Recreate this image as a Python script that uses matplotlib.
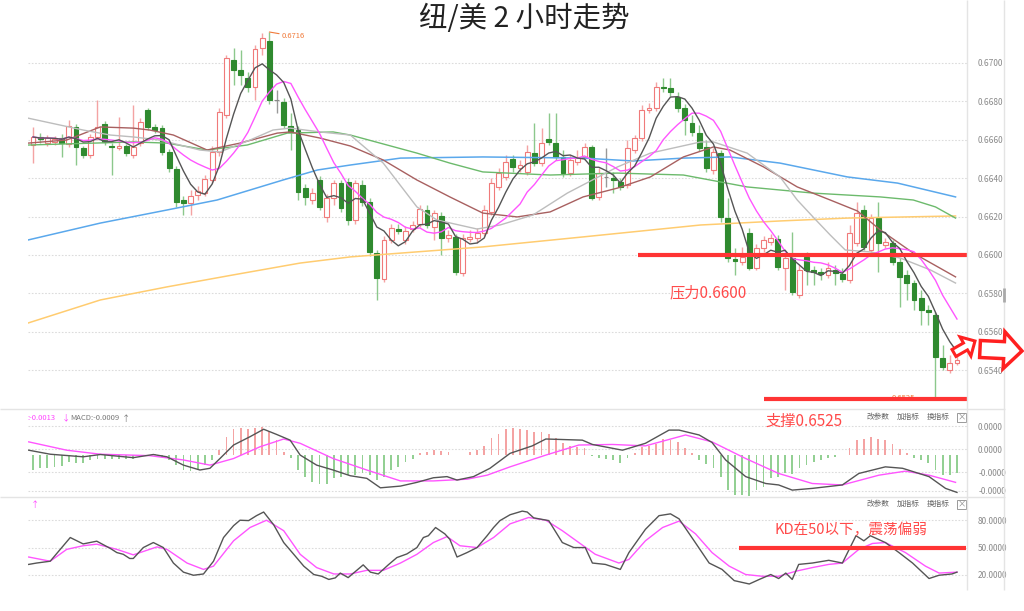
import matplotlib
matplotlib.use('Agg')
import matplotlib.pyplot as plt
import numpy as np
import pandas as pd
from matplotlib.patches import Rectangle, FancyArrow

plt.rcParams['font.family'] = ['Noto Sans CJK SC', 'DejaVu Sans']
plt.rcParams['axes.unicode_minus'] = False

# ---------------- data ----------------
opens = [0.66572, 0.66614, 0.66582, 0.66588, 0.66608, 0.66577, 0.66666, 0.66556, 0.66520, 0.66614,
         0.66681, 0.66567, 0.66556, 0.66567, 0.66520, 0.66582, 0.66754, 0.66666, 0.66660, 0.66536,
         0.66447, 0.66286, 0.66270, 0.66312, 0.66322, 0.66390, 0.66536, 0.66728, 0.67014, 0.66962,
         0.66920, 0.66874, 0.67076, 0.67113, 0.66806, 0.66796, 0.66671, 0.66650, 0.66348, 0.66286,
         0.66390, 0.66198, 0.66296, 0.66374, 0.66380, 0.66182, 0.66364, 0.66276, 0.66010, 0.65875,
         0.66078, 0.66135, 0.66078, 0.66135, 0.66161, 0.66234, 0.66146, 0.66203, 0.66088, 0.66094,
         0.65906, 0.66083, 0.66088, 0.66114, 0.66224, 0.66354, 0.66406, 0.66499, 0.66452, 0.66432,
         0.66530, 0.66478, 0.66603, 0.66582, 0.66510, 0.66426, 0.66484, 0.66510, 0.66562, 0.66302,
         0.66406, 0.66400, 0.66380, 0.66364, 0.66546, 0.66608, 0.66754, 0.66764, 0.66874, 0.66868,
         0.66822, 0.66764, 0.66686, 0.66634, 0.66562, 0.66442, 0.66530, 0.66192, 0.65979, 0.65964,
         0.66114, 0.65932, 0.66036, 0.66068, 0.66083, 0.65932, 0.65984, 0.65792, 0.65990, 0.65922,
         0.65912, 0.65896, 0.65922, 0.65901, 0.65870, 0.66062, 0.66234, 0.66026, 0.66192, 0.66052,
         0.66062, 0.65964, 0.65896, 0.65854, 0.65776, 0.65714, 0.65688, 0.65464, 0.65402, 0.65438]
highs = [0.66666, 0.66634, 0.66624, 0.66619, 0.66629, 0.66702, 0.66681, 0.66567, 0.66629, 0.66806,
         0.66697, 0.66582, 0.66718, 0.66577, 0.66780, 0.66712, 0.66764, 0.66681, 0.66676, 0.66551,
         0.66463, 0.66307, 0.66338, 0.66359, 0.66416, 0.66567, 0.66764, 0.67040, 0.67076, 0.67066,
         0.66952, 0.67092, 0.67154, 0.67160, 0.66858, 0.66816, 0.66738, 0.66671, 0.66369, 0.66348,
         0.66411, 0.66317, 0.66390, 0.66390, 0.66400, 0.66390, 0.66390, 0.66296, 0.66026, 0.66099,
         0.66161, 0.66161, 0.66151, 0.66177, 0.66260, 0.66260, 0.66234, 0.66224, 0.66130, 0.66109,
         0.66109, 0.66130, 0.66140, 0.66260, 0.66400, 0.66452, 0.66520, 0.66520, 0.66494, 0.66572,
         0.66686, 0.66660, 0.66738, 0.66738, 0.66546, 0.66520, 0.66546, 0.66582, 0.66572, 0.66452,
         0.66556, 0.66432, 0.66400, 0.66598, 0.66624, 0.66780, 0.66790, 0.66900, 0.66920, 0.66920,
         0.66848, 0.66785, 0.66728, 0.66676, 0.66598, 0.66556, 0.66546, 0.66296, 0.66036, 0.66042,
         0.66140, 0.66057, 0.66099, 0.66109, 0.66104, 0.66000, 0.66119, 0.65948, 0.66016, 0.65943,
         0.65932, 0.65964, 0.65948, 0.65932, 0.66156, 0.66276, 0.66260, 0.66213, 0.66276, 0.66088,
         0.66078, 0.65984, 0.65922, 0.65870, 0.65818, 0.65740, 0.65704, 0.65532, 0.65480, 0.65532]
lows = [0.66478, 0.66582, 0.66567, 0.66572, 0.66510, 0.66562, 0.66468, 0.66504, 0.66504, 0.66598,
        0.66572, 0.66416, 0.66546, 0.66515, 0.66504, 0.66567, 0.66650, 0.66634, 0.66520, 0.66432,
        0.66250, 0.66208, 0.66208, 0.66286, 0.66307, 0.66374, 0.66515, 0.66712, 0.66884, 0.66884,
        0.66848, 0.66806, 0.67040, 0.66785, 0.66738, 0.66660, 0.66546, 0.66286, 0.66260, 0.66265,
        0.66234, 0.66172, 0.66260, 0.66224, 0.66156, 0.66161, 0.66255, 0.65995, 0.65766, 0.65860,
        0.66062, 0.66109, 0.66057, 0.66120, 0.66146, 0.66140, 0.66078, 0.66000, 0.66068, 0.65896,
        0.65891, 0.66068, 0.66062, 0.66099, 0.66208, 0.66338, 0.66390, 0.66432, 0.66432, 0.66416,
        0.66463, 0.66463, 0.66572, 0.66494, 0.66406, 0.66411, 0.66468, 0.66494, 0.66286, 0.66286,
        0.66354, 0.66322, 0.66338, 0.66348, 0.66530, 0.66593, 0.66738, 0.66749, 0.66848, 0.66827,
        0.66744, 0.66624, 0.66619, 0.66541, 0.66432, 0.66421, 0.66172, 0.65964, 0.65896, 0.65948,
        0.65922, 0.65922, 0.66016, 0.66052, 0.65922, 0.65818, 0.65792, 0.65776, 0.65844, 0.65844,
        0.65870, 0.65880, 0.65844, 0.65860, 0.65854, 0.66047, 0.66026, 0.66016, 0.65912, 0.66036,
        0.65948, 0.65730, 0.65766, 0.65714, 0.65636, 0.65636, 0.65250, 0.65402, 0.65386, 0.65428]
closes = [0.66614, 0.66603, 0.66608, 0.66603, 0.66582, 0.66671, 0.66562, 0.66520, 0.66614, 0.66666,
          0.66588, 0.66562, 0.66567, 0.66530, 0.66562, 0.66692, 0.66666, 0.66650, 0.66536, 0.66452,
          0.66276, 0.66270, 0.66307, 0.66333, 0.66395, 0.66536, 0.66744, 0.67024, 0.66962, 0.66936,
          0.66874, 0.67071, 0.67128, 0.66806, 0.66806, 0.66676, 0.66640, 0.66328, 0.66302, 0.66322,
          0.66250, 0.66296, 0.66374, 0.66244, 0.66182, 0.66374, 0.66276, 0.66016, 0.65880, 0.66078,
          0.66140, 0.66125, 0.66125, 0.66156, 0.66239, 0.66156, 0.66218, 0.66088, 0.66104, 0.65912,
          0.66088, 0.66094, 0.66114, 0.66234, 0.66374, 0.66426, 0.66484, 0.66458, 0.66468, 0.66536,
          0.66478, 0.66582, 0.66588, 0.66510, 0.66426, 0.66494, 0.66504, 0.66562, 0.66296, 0.66426,
          0.66406, 0.66390, 0.66354, 0.66556, 0.66608, 0.66754, 0.66764, 0.66874, 0.66868, 0.66848,
          0.66764, 0.66702, 0.66640, 0.66556, 0.66452, 0.66536, 0.66198, 0.65984, 0.65969, 0.65990,
          0.65932, 0.66036, 0.66078, 0.66088, 0.65938, 0.65984, 0.65808, 0.65922, 0.65922, 0.65912,
          0.65901, 0.65932, 0.65906, 0.65875, 0.66114, 0.66218, 0.66042, 0.66192, 0.66062, 0.66068,
          0.65964, 0.65886, 0.65854, 0.65766, 0.65714, 0.65704, 0.65470, 0.65418, 0.65438, 0.65454]

# longer moving averages (candle index, price)
ma20_x = [-0.7, 7.0, 10.8, 14.0, 17.7, 23.3, 26.1, 30.3, 33.5, 35.9, 40.1, 44.3, 48.9, 53.6, 56.4, 62.0, 65.2,
          69.8, 74.6, 81.6, 86.2, 93.2, 95.0, 99.7, 104.3, 106.7, 108.9, 111.3, 113.4, 116.9, 121.1, 125.3, 128.8]
ma20_v = [0.66712, 0.66650, 0.66624, 0.66614, 0.66598, 0.66546, 0.66536, 0.66598, 0.66650, 0.66660, 0.66640,
          0.66624, 0.66478, 0.66250, 0.66182, 0.66135, 0.66156, 0.66208, 0.66322, 0.66458, 0.66530, 0.66588,
          0.66588, 0.66530, 0.66406, 0.66286, 0.66198, 0.66104, 0.66026, 0.66016, 0.65984, 0.65922, 0.65854]
ma30_x = [-0.7, 4.7, 9.4, 14.0, 16.3, 19.6, 24.3, 28.9, 34.1, 35.9, 40.1, 44.3, 48.9, 53.6, 58.2, 62.8, 67.6,
          72.2, 76.8, 81.6, 86.2, 90.8, 95.0, 97.3, 102.0, 106.7, 111.3, 115.1, 118.3, 122.9, 128.8]
ma30_v = [0.66582, 0.66598, 0.66666, 0.66660, 0.66650, 0.66624, 0.66546, 0.66582, 0.66634, 0.66640, 0.66608,
          0.66567, 0.66494, 0.66390, 0.66302, 0.66218, 0.66198, 0.66224, 0.66302, 0.66348, 0.66406, 0.66510,
          0.66562, 0.66546, 0.66458, 0.66354, 0.66286, 0.66229, 0.66130, 0.66010, 0.65886]
ma60_x = [-0.7, 14.0, 18.7, 24.3, 29.9, 35.5, 41.9, 44.3, 53.6, 58.2, 62.8, 72.2, 81.6, 90.8, 99.7, 108.9,
          118.3, 122.9, 126.0, 128.8]
ma60_v = [0.66572, 0.66588, 0.66582, 0.66546, 0.66572, 0.66634, 0.66640, 0.66624, 0.66530, 0.66478, 0.66432,
          0.66416, 0.66426, 0.66416, 0.66354, 0.66322, 0.66302, 0.66286, 0.66250, 0.66192]
ma120_x = [-0.7, 9.4, 18.7, 25.7, 30.3, 34.9, 39.7, 44.3, 51.3, 62.8, 76.8, 83.8, 90.8, 97.3, 104.3, 113.7,
           120.7, 128.8]
ma120_v = [0.66078, 0.66166, 0.66234, 0.66286, 0.66338, 0.66390, 0.66442, 0.66468, 0.66504, 0.66510, 0.66504,
           0.66489, 0.66504, 0.66510, 0.66478, 0.66406, 0.66374, 0.66302]
ma250_x = [-0.7, 9.4, 18.7, 27.9, 37.3, 44.3, 62.8, 76.8, 93.2, 104.3, 113.7, 128.8]
ma250_v = [0.65646, 0.65766, 0.65834, 0.65896, 0.65958, 0.65990, 0.66042, 0.66094, 0.66156, 0.66177, 0.66192,
           0.66203]

# MACD
macd_hist = [-0.00052, -0.00046, -0.00044, -0.00041, -0.00037, -0.00023, -0.00026, -0.00029, -0.00017, -0.00012,
             -0.00012, -0.00012, -0.00014, -0.00014, -0.00012, -0.00006, 0.00002, 0.00005, -0.00006, -0.00017,
             -0.00035, -0.00052, -0.00056, -0.00052, -0.00035, -0.00017, 0.00017, 0.00064, 0.00090, 0.00093,
             0.00090, 0.00095, 0.00099, 0.00084, 0.00052, 0.00012, -0.00009, -0.00052, -0.00075, -0.00095,
             -0.00099, -0.00099, -0.00081, -0.00075, -0.00070, -0.00070, -0.00064, -0.00070, -0.00087, -0.00075,
             -0.00052, -0.00041, -0.00023, -0.00012, 0.00006, 0.00009, 0.00017, 0.00014, 0.00012, 0.00001,
             0.00002, 0.00009, 0.00017, 0.00032, 0.00058, 0.00072, 0.00090, 0.00093, 0.00090, 0.00087,
             0.00081, 0.00079, 0.00075, 0.00058, 0.00041, 0.00032, 0.00029, 0.00026, -0.00002, -0.00009,
             -0.00014, -0.00017, -0.00026, -0.00009, 0.00006, 0.00029, 0.00032, 0.00037, 0.00056, 0.00052,
             0.00044, 0.00023, 0.00006, -0.00017, -0.00032, -0.00046, -0.00075, -0.00122, -0.00139, -0.00139,
             -0.00142, -0.00122, -0.00110, -0.00079, -0.00075, -0.00064, -0.00067, -0.00046, -0.00035, -0.00023,
             -0.00017, -0.00009, -0.00006, 0.00002, 0.00026, 0.00052, 0.00056, 0.00064, 0.00056, 0.00052,
             0.00037, 0.00021, 0.00006, -0.00009, -0.00017, -0.00026, -0.00052, -0.00070, -0.00070, -0.00064]
dif_x = [-0.6, 2.4, 7.0, 9.4, 14.0, 16.8, 18.7, 21.0, 23.3, 24.7, 26.1, 28.0, 30.3, 32.2, 34.0, 35.9, 37.3, 39.6,
         41.9, 44.3, 46.6, 48.5, 51.3, 53.6, 55.9, 57.8, 59.2, 61.5, 63.8, 66.6, 69.7, 71.6, 76.7, 78.1, 82.3,
         85.5, 88.8, 90.2, 93.0, 94.8, 96.7, 99.5, 102.3, 104.1, 106.0, 108.8, 113.0, 115.3, 119.0, 121.4, 125.1,
         127.4, 129.0]
dif_v = [0.00017, 0.00003, -0.00006, 0.00002, -0.00009, 0.00002, -0.00006, -0.00035, -0.00052, -0.00046,
         -0.00012, 0.00035, 0.00064, 0.00090, 0.00072, 0.00052, 0.0, -0.00035, -0.00052, -0.00072,
         -0.00081, -0.00114, -0.00108, -0.00095, -0.00079, -0.00075, -0.00087, -0.00075, -0.00046, 0.00006,
         0.00032, 0.00056, 0.00052, 0.00037, 0.00017, 0.00041, 0.00087, 0.00087, 0.00070, 0.00044,
         -0.00017, -0.00075, -0.00099, -0.00104, -0.00122, -0.00116, -0.00104, -0.00064, -0.00041, -0.00046,
         -0.00075, -0.00116, -0.00130]
dea_x = [-0.6, 4.7, 9.4, 16.3, 21.0, 24.7, 28.0, 31.7, 35.0, 37.3, 41.9, 46.6, 51.3, 55.9, 60.6, 63.4, 66.6,
         71.6, 76.2, 80.9, 85.5, 91.1, 94.8, 99.5, 104.1, 108.8, 113.0, 118.1, 121.8, 125.1, 128.8]
dea_v = [0.00046, 0.00017, 0.00003, -0.00002, -0.00017, -0.00035, -0.00012, 0.00029, 0.00056, 0.00041,
         -0.00012, -0.00052, -0.00090, -0.00090, -0.00084, -0.00070, -0.00041, 0.0, 0.00035, 0.00037,
         0.00032, 0.00070, 0.00046, -0.00012, -0.00064, -0.00099, -0.00104, -0.00070, -0.00056, -0.00070,
         -0.00095]
macd_ticks = [0.00101, 0.00021, -0.00059, -0.00125]
macd_tick_labels = ['0.0000', '0.0000', '-0.0000', '-0.0000']

# KD
k_x = [-0.6, 0.5, 2.4, 5.2, 7.0, 8.9, 10.8, 11.7, 12.6, 13.5, 14.0, 15.4, 16.8, 18.2, 19.6, 21.0, 22.4, 23.8,
       25.2, 26.6, 28.0, 28.9, 30.1, 31.2, 32.2, 33.6, 35.0, 36.4, 37.8, 39.2, 40.3, 41.3, 42.2, 42.9, 44.0,
       45.2, 46.1, 47.1, 48.2, 49.6, 50.8, 52.2, 53.6, 54.5, 55.2, 56.2, 57.5, 58.2, 59.2, 60.6, 62.0, 63.4,
       64.3, 65.2, 66.6, 68.3, 69.0, 69.9, 72.0, 73.9, 75.5, 77.1, 78.1, 79.9, 82.0, 83.2, 85.5, 87.4, 89.0,
       90.2, 92.3, 94.4, 96.2, 97.9, 100.0, 101.4, 103.0, 104.1, 105.1, 106.0, 106.9, 108.8, 111.1, 113.0,
       114.9, 116.0, 116.9, 119.0, 120.9, 122.8, 125.1, 126.5, 128.3, 129.0]
k_v = [31.5, 33, 35, 61, 54, 57, 49, 44.5, 42.6, 38, 38, 50, 55.5, 50, 33, 23, 19.6, 21, 35, 61, 74, 80, 79.6,
       85, 89, 75, 55.5, 42.6, 29.6, 20.4, 18.5, 15, 16.7, 22, 17, 25, 31, 23, 21, 31, 39, 43, 50, 61, 63, 72,
       65, 59, 39.6, 44.5, 50, 63, 72, 79.6, 86, 90, 89, 82.6, 79.6, 55.5, 50, 50, 33, 31.5, 26, 44.5, 70, 85,
       87, 81.5, 57.4, 33, 26, 13.7, 10, 15, 20.4, 16, 22, 15, 31.5, 33, 36, 33, 63, 57.4, 63, 55.5, 44.5, 33,
       16, 19.6, 21, 23]
d_x = [-0.6, 2.4, 4.7, 7.0, 8.9, 11.7, 14.0, 17.3, 18.7, 21.5, 23.8, 25.2, 28.0, 30.3, 32.6, 35.0, 37.3, 39.6,
       42.0, 44.3, 46.6, 48.9, 51.3, 53.6, 55.9, 57.8, 59.6, 62.0, 64.3, 66.6, 69.2, 71.6, 73.9, 76.2, 78.5,
       81.8, 83.2, 85.5, 87.9, 90.2, 92.5, 94.8, 97.2, 99.5, 101.8, 104.1, 106.5, 108.8, 111.1, 113.0, 115.3,
       117.2, 119.0, 121.8, 124.6, 126.5, 129.0]
d_v = [39.6, 35, 48, 52, 53.7, 48, 42, 50.7, 48, 33, 26, 29.6, 57.4, 72, 80, 68.5, 42.6, 28, 21, 21, 25, 25,
       33, 42.6, 55.5, 62, 52, 50, 61, 76, 83, 80, 68.5, 55.5, 42.6, 33, 37, 57.4, 72, 79, 65, 44.5, 29.6,
       20.4, 18.5, 18.5, 24, 28, 31.5, 33, 48, 54.5, 55.5, 44.5, 29.6, 22, 23]

price_ticks = [0.6540, 0.6560, 0.6580, 0.6600, 0.6620, 0.6640, 0.6660, 0.6680, 0.6700]
kd_ticks = [20, 50, 80]
resistance = 0.6600
support = 0.6525
kd_level = 50

title = '纽/美 2 小时走势'
txt_res = '压力0.6600'
txt_sup = '支撑0.6525'
txt_kd = 'KD在50以下，震荡偏弱'

# ---------------- figure ----------------
W, H = 1024, 611
fig = plt.figure(figsize=(W / 100, H / 100), dpi=100)
fig.patch.set_facecolor('white')


def frac(x0, y0, x1, y1):
    return [x0 / W, 1 - y1 / H, (x1 - x0) / W, (y1 - y0) / H]


ax = fig.add_axes(frac(28, 22, 967, 408))
axm = fig.add_axes(frac(28, 410, 967, 497))
axk = fig.add_axes(frac(28, 499, 967, 588))

n = len(closes)
xs = np.arange(n)
XL = (-0.7, 130.4)
grid_kw = dict(color='#dcdcdc', lw=0.8, ls=(0, (1.5, 1.5)))

for a in (ax, axm, axk):
    a.set_xlim(*XL)
    a.set_xticks([])
    for s in a.spines.values():
        s.set_visible(False)
    a.yaxis.tick_right()
    a.tick_params(axis='y', length=0, pad=8, labelsize=6, labelcolor='#8a8a8a')
    a.set_facecolor('none')

# main price panel
ax.set_ylim(0.65204, 0.67212)
ax.set_yticks(price_ticks)
ax.set_yticklabels([f'{v:.4f}' for v in price_ticks])
for v in price_ticks:
    ax.axhline(v, zorder=0, **grid_kw)

UP_EDGE, UP_WICK = '#f07a7a', '#f4a3a3'
DN_FACE, DN_WICK = '#2f8a2f', '#8cc88c'
for i in range(n):
    o, h, l, c = opens[i], highs[i], lows[i], closes[i]
    if c > o:
        face, edge, wick = 'white', UP_EDGE, UP_WICK
    elif c < o:
        face, edge, wick = DN_FACE, DN_FACE, DN_WICK
    else:
        face, edge, wick = '#888888', '#888888', '#999999'
    ax.vlines(i, l, h, color=wick, lw=1.0, zorder=2)
    ax.add_patch(Rectangle((i - 0.34, min(o, c)), 0.68, max(abs(c - o), 0.00002),
                           facecolor=face, edgecolor=edge, lw=0.8, zorder=3))

cs = pd.Series(closes)
ma5 = cs.rolling(5, min_periods=1).mean()
ma10 = cs.rolling(10, min_periods=1).mean()
ax.plot(ma250_x, ma250_v, color='#ffcc70', lw=1.1, zorder=4)
ax.plot(ma120_x, ma120_v, color='#5aa8ec', lw=1.1, zorder=4)
ax.plot(ma60_x, ma60_v, color='#6cba6c', lw=1.0, zorder=4)
ax.plot(ma30_x, ma30_v, color='#a86060', lw=1.0, zorder=4)
ax.plot(ma20_x, ma20_v, color='#bdbdbd', lw=1.0, zorder=4)
ax.plot(xs, ma10, color='#ff55ff', lw=1.0, zorder=4)
ax.plot(xs, ma5, color='#555555', lw=1.0, zorder=4)

RED = '#ff3434'
ax.hlines(resistance, 84.4, XL[1], color=RED, lw=3, zorder=6)
ax.hlines(support, 102.0, XL[1], color=RED, lw=3, zorder=6)

imax = int(np.argmax(highs))
imin = int(np.argmin(lows))
ax.annotate(f'{max(highs):.4f}', xy=(imax, max(highs)), xytext=(9, -3), textcoords='offset points',
            fontsize=5.5, color='#f07a3a', va='center', ha='left',
            arrowprops=dict(arrowstyle='-', color='#f07a3a', lw=0.8, shrinkA=0, shrinkB=0))
ax.annotate(f'{min(lows):.4f}', xy=(imin, min(lows)), xytext=(-15, 1), textcoords='offset points',
            fontsize=5.5, color='#f07a3a', va='center', ha='right', zorder=5,
            arrowprops=dict(arrowstyle='-', color='#f07a3a', lw=0.8, shrinkA=0, shrinkB=0))

# MACD panel
axm.set_ylim(-0.00146, 0.00157)
axm.set_yticks(macd_ticks)
axm.set_yticklabels(macd_tick_labels)
for v in macd_ticks:
    axm.axhline(v, zorder=0, **grid_kw)
hcol = ['#f4a3a3' if v > 0 else '#93d093' for v in macd_hist]
axm.bar(xs, macd_hist, width=0.25, color=hcol, zorder=2)
axm.plot(dea_x, dea_v, color='#ff55ff', lw=1.0, zorder=3)
axm.plot(dif_x, dif_v, color='#555555', lw=1.0, zorder=3)

# KD panel
axk.set_ylim(5.6, 103.3)
axk.set_yticks(kd_ticks)
axk.set_yticklabels([f'{v:.4f}' for v in kd_ticks])
for v in kd_ticks:
    axk.axhline(v, zorder=0, **grid_kw)
axk.plot(d_x, d_v, color='#ff55ff', lw=1.0, zorder=3)
axk.plot(k_x, k_v, color='#555555', lw=1.0, zorder=3)
axk.hlines(kd_level, 98.6, 130.2, color=RED, lw=3, zorder=5)

# ---------------- overlay (decoration, texts) ----------------
ov = fig.add_axes([0, 0, 1, 1])
ov.set_xlim(0, W)
ov.set_ylim(H, 0)
ov.axis('off')
ov.patch.set_alpha(0)

ov.hlines([409, 497], 0, 1005, color='#e4e4e4', lw=1.0)
ov.vlines([967, 1004], 0, 590, color='#e4e4e4', lw=1.0)
ov.vlines(1004, 288, 302, color='#aaaaaa', lw=2.0)

ov.text(524, 19, title, fontsize=20.5, ha='center', va='center', color='#222222')
ov.text(670, 293, txt_res, fontsize=11, ha='left', va='center', color='#ff4a4a', fontweight='medium')
ov.text(765, 421, txt_sup, fontsize=11, ha='left', va='center', color='#ff4a4a', fontweight='medium')
ov.text(774, 530, txt_kd, fontsize=10.5, ha='left', va='center', color='#ff4a4a', fontweight='medium')

ov.text(27, 418, ':-0.0013', fontsize=5.5, ha='left', va='center', color='#ff44ff')
ov.text(62, 418, '↓', fontsize=6, ha='left', va='center', color='#ff44ff')
ov.text(70, 418, 'MACD:-0.0009', fontsize=5.5, ha='left', va='center', color='#777777')
ov.text(122, 418, '↑', fontsize=6, ha='left', va='center', color='#777777')
ov.text(31, 505, '↑', fontsize=6, ha='left', va='center', color='#ff44ff')

for yy in (417, 504):
    ov.text(867, yy, '改参数', fontsize=5.5, ha='left', va='center', color='#666666')
    ov.text(897, yy, '加指标', fontsize=5.5, ha='left', va='center', color='#666666')
    ov.text(927, yy, '换指标', fontsize=5.5, ha='left', va='center', color='#666666')
    ov.add_patch(Rectangle((957, yy - 4.5), 9, 9, facecolor='white', edgecolor='#999999', lw=0.7))
    ov.text(961.5, yy, '×', fontsize=6, ha='center', va='center', color='#888888')

ov.add_patch(FancyArrow(954, 353, 21, -12, width=8, head_width=22, head_length=11,
                        length_includes_head=True, facecolor='white', edgecolor='#ff2020', lw=2.2, zorder=10))
ov.add_patch(FancyArrow(980, 349, 42, 2, width=17, head_width=37, head_length=18,
                        length_includes_head=True, facecolor='white', edgecolor='#ff2020', lw=2.5, zorder=10))

fig.savefig('out.png', dpi=100, facecolor='white')
